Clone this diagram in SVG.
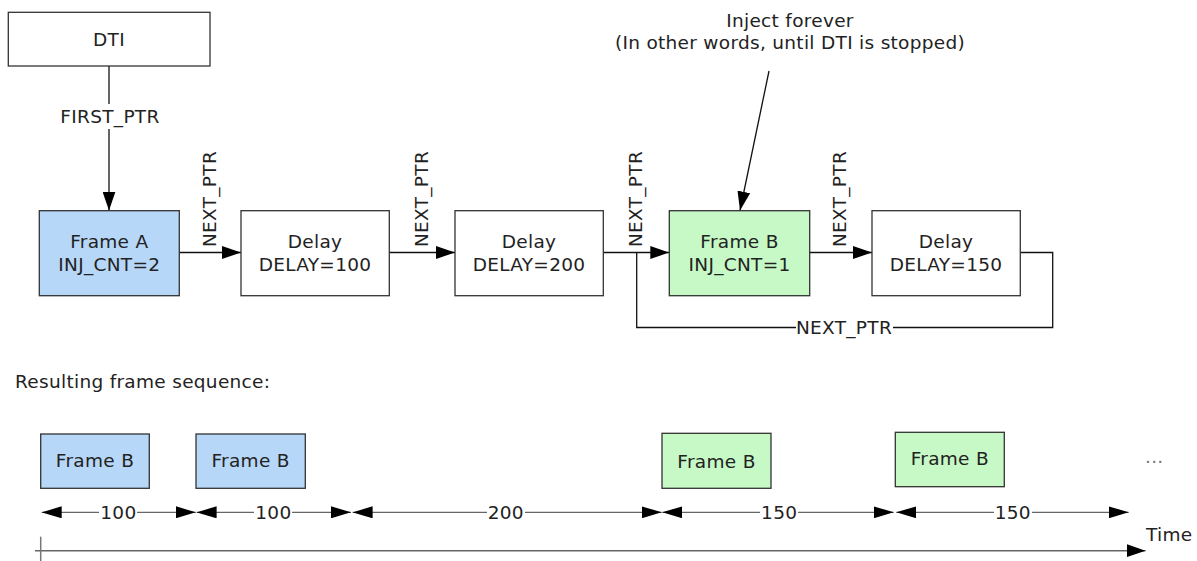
<svg xmlns="http://www.w3.org/2000/svg" width="1197" height="561" viewBox="0 0 1197 561">
<style>
text{font-family:"DejaVu Sans","Liberation Sans",sans-serif;font-size:18.5px;fill:#222;letter-spacing:0.3px}
.c{text-anchor:middle}
.box{fill:#fff;stroke:#333;stroke-width:1.3}
.blue{fill:#b7d7f8;stroke:#333;stroke-width:1.3}
.green{fill:#c6f9c6;stroke:#333;stroke-width:1.3}
.con{fill:none;stroke:#111;stroke-width:1.3}
.dim{fill:none;stroke:#666;stroke-width:1.3}
.bg{fill:#fff}
</style>
<defs>
<marker id="arr" markerUnits="userSpaceOnUse" markerWidth="19" markerHeight="13" refX="19" refY="6.5" orient="auto" viewBox="0 0 19 13">
<path d="M0,0 L19,6.5 L0,13 z" fill="#000"/>
</marker>
<marker id="darr" markerUnits="userSpaceOnUse" markerWidth="20" markerHeight="12" refX="20" refY="6" orient="auto-start-reverse" viewBox="0 0 20 12">
<path d="M0,0 L20,6 L0,12 z" fill="#000"/>
</marker>
</defs>

<g id="connectors">
<line class="con" x1="109" y1="66" x2="109" y2="104"/>
<line class="con" x1="109" y1="129" x2="109" y2="210.5" marker-end="url(#arr)"/>
<text class="c" x="110" y="122.7">FIRST_PTR</text>
<line class="con" x1="179.3" y1="252.5" x2="241" y2="252.5" marker-end="url(#arr)"/>
<text class="c" transform="translate(216,199) rotate(-90)">NEXT_PTR</text>
<line class="con" x1="389.3" y1="252.5" x2="455" y2="252.5" marker-end="url(#arr)"/>
<text class="c" transform="translate(428,199) rotate(-90)">NEXT_PTR</text>
<line class="con" x1="603.3" y1="252.5" x2="669.3" y2="252.5" marker-end="url(#arr)"/>
<text class="c" transform="translate(642,199) rotate(-90)">NEXT_PTR</text>
<line class="con" x1="809.7" y1="252.5" x2="872" y2="252.5" marker-end="url(#arr)"/>
<text class="c" transform="translate(846,199) rotate(-90)">NEXT_PTR</text>
<path class="con" d="M1020.3,252.5 H1052.7 V327.5 H636.7 V252.5"/>
<rect class="bg" x="796" y="318" width="97" height="20"/>
<text class="c" x="844" y="334.3">NEXT_PTR</text>
<line class="con" x1="769" y1="71" x2="740" y2="210.5" marker-end="url(#arr)"/>
</g>

<g id="dti"><rect class="box" x="8.3" y="12.3" width="201.7" height="53.7"/><text class="c" x="109" y="45.7">DTI</text></g>
<g id="frameA"><rect class="blue" x="39.3" y="210.7" width="140" height="85"/><text class="c" x="109.3" y="248.3">Frame A</text><text class="c" x="109.3" y="270.7">INJ_CNT=2</text></g>
<g id="delay1"><rect class="box" x="241" y="210.7" width="148.3" height="85"/><text class="c" x="315" y="248.3">Delay</text><text class="c" x="315" y="270.7">DELAY=100</text></g>
<g id="delay2"><rect class="box" x="455" y="210.7" width="148.3" height="85"/><text class="c" x="529" y="248.3">Delay</text><text class="c" x="529" y="270.7">DELAY=200</text></g>
<g id="frameB"><rect class="green" x="669.3" y="210.7" width="140.4" height="85"/><text class="c" x="739.5" y="248.3">Frame B</text><text class="c" x="739.5" y="270.7">INJ_CNT=1</text></g>
<g id="delay3"><rect class="box" x="872" y="210.7" width="148.3" height="85"/><text class="c" x="946" y="248.3">Delay</text><text class="c" x="946" y="270.7">DELAY=150</text></g>
<g id="note"><text class="c" x="790" y="27">Inject forever</text><text class="c" x="790" y="49">(In other words, until DTI is stopped)</text></g>

<g id="sequence">
<text x="15" y="388">Resulting frame sequence:</text>
<g id="seq1"><rect class="blue" x="40.7" y="434" width="108.6" height="54.3"/><text class="c" x="95" y="466.7">Frame B</text></g>
<g id="seq2"><rect class="blue" x="196" y="434" width="109.3" height="54.3"/><text class="c" x="250.6" y="466.7">Frame B</text></g>
<g id="seq3"><rect class="green" x="662" y="433.3" width="109" height="55"/><text class="c" x="716.5" y="467.7">Frame B</text></g>
<g id="seq4"><rect class="green" x="895.3" y="432.3" width="109" height="54.4"/><text class="c" x="949.8" y="465">Frame B</text></g>
<text x="1145" y="463" style="fill:#777">...</text>
</g>

<g id="dimensions">
<line class="dim" x1="41.7" y1="512.3" x2="195.8" y2="512.3" marker-start="url(#darr)" marker-end="url(#darr)"/>
<rect class="bg" x="99" y="502" width="38" height="20"/><text class="c" x="118.4" y="518.5">100</text>
<line class="dim" x1="196.6" y1="512.3" x2="351" y2="512.3" marker-start="url(#darr)" marker-end="url(#darr)"/>
<rect class="bg" x="254" y="502" width="38" height="20"/><text class="c" x="273.4" y="518.5">100</text>
<line class="dim" x1="352.6" y1="512.3" x2="661.7" y2="512.3" marker-start="url(#darr)" marker-end="url(#darr)"/>
<rect class="bg" x="487" y="502" width="38" height="20"/><text class="c" x="505.8" y="518.5">200</text>
<line class="dim" x1="662.3" y1="512.3" x2="893.7" y2="512.3" marker-start="url(#darr)" marker-end="url(#darr)"/>
<rect class="bg" x="760" y="502" width="38" height="20"/><text class="c" x="779.2" y="518.5">150</text>
<line class="dim" x1="896.3" y1="512.3" x2="1128.7" y2="512.3" marker-start="url(#darr)" marker-end="url(#darr)"/>
<rect class="bg" x="994" y="502" width="38" height="20"/><text class="c" x="1012.8" y="518.5">150</text>
</g>

<g id="axis">
<line x1="35" y1="550.7" x2="1145.5" y2="550.7" stroke="#666" stroke-width="1.5" marker-end="url(#arr)"/>
<line x1="40.7" y1="536.7" x2="40.7" y2="561" stroke="#777" stroke-width="1.5"/>
<text x="1146" y="540.5">Time</text>
</g>
</svg>
